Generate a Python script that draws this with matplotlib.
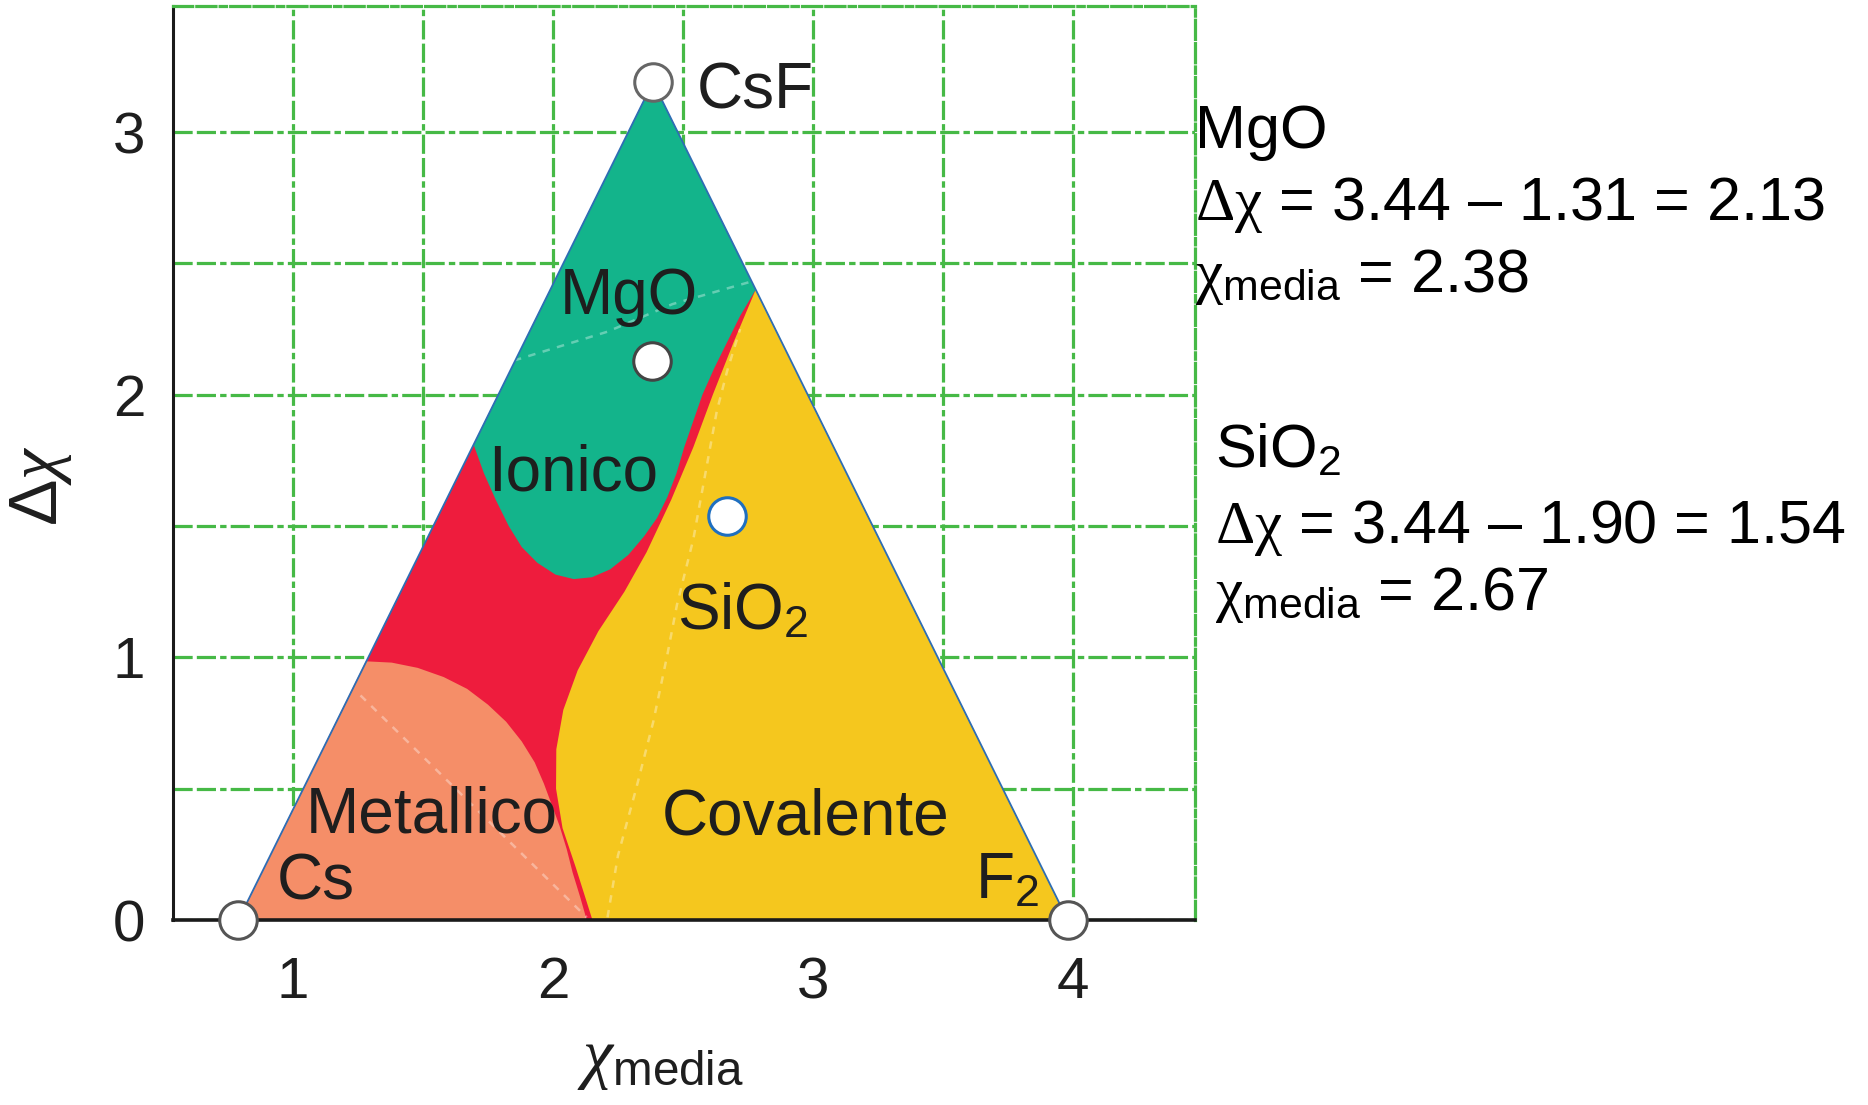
import matplotlib
matplotlib.use('Agg')
import matplotlib.pyplot as plt
from matplotlib.patches import Polygon

plt.rcParams['font.family'] = ['Liberation Sans', 'DejaVu Sans']
plt.rcParams['mathtext.fontset'] = 'custom'
plt.rcParams['mathtext.rm'] = 'Liberation Sans'
plt.rcParams['mathtext.it'] = 'Liberation Serif:italic'
plt.rcParams['mathtext.bf'] = 'Liberation Sans:bold'
plt.rcParams['mathtext.sf'] = 'Liberation Serif'

# ---------------- data ----------------
compounds = ['Cs', 'CsF', 'MgO', 'SiO2', 'F2']
chi_media = [0.79, 2.385, 2.38, 2.67, 3.98]
delta_chi = [0.0, 3.19, 2.13, 1.54, 0.0]
marker_edges = ['#555555', '#666666', '#444444', '#1F6FC0', '#555555']

# triangle corners (Cs, CsF, F2)
tri_x = [0.79, 2.385, 3.98]
tri_y = [0.0, 3.19, 0.0]

# metallic region boundary (left edge -> bottom)
met_x = [1.28, 1.38, 1.48, 1.58, 1.67, 1.75, 1.82, 1.88, 1.93, 1.965, 1.995, 2.025, 2.053, 2.076, 2.104, 2.13]
met_y = [0.985, 0.98, 0.96, 0.925, 0.88, 0.82, 0.755, 0.68, 0.60, 0.52, 0.44, 0.36, 0.27, 0.18, 0.09, 0.0]

# ionic region boundary (left edge -> right edge)
ion_x = [1.695, 1.735, 1.78, 1.83, 1.88, 1.94, 2.01, 2.08, 2.15, 2.22, 2.29, 2.35, 2.40, 2.44,
         2.475, 2.505, 2.54, 2.575, 2.62, 2.67, 2.72, 2.78]
ion_y = [1.81, 1.70, 1.60, 1.50, 1.42, 1.36, 1.315, 1.298, 1.305, 1.335, 1.39, 1.46, 1.53, 1.61,
         1.70, 1.80, 1.90, 2.00, 2.10, 2.20, 2.30, 2.40]

# covalent region boundary (right edge -> bottom)
cov_x = [2.78, 2.695, 2.615, 2.54, 2.455, 2.36, 2.275, 2.175, 2.095, 2.04, 2.013, 2.012, 2.037, 2.088, 2.12, 2.152]
cov_y = [2.40, 2.20, 2.00, 1.80, 1.60, 1.40, 1.25, 1.10, 0.95, 0.80, 0.65, 0.50, 0.35, 0.20, 0.10, 0.0]

# faint guide lines inside the regions
guide_ion_x = [1.85, 2.21, 2.46, 2.76]
guide_ion_y = [2.13, 2.24, 2.345, 2.43]
guide_cov_x = [2.21, 2.25, 2.32, 2.386, 2.44, 2.477, 2.54, 2.63, 2.67, 2.72]
guide_cov_y = [0.01, 0.245, 0.50, 0.755, 1.01, 1.20, 1.45, 1.936, 2.09, 2.25]
guide_met_x = [1.26, 2.13]
guide_met_y = [0.855, 0.01]

x_ticks = [1, 2, 3, 4]
y_ticks = [0, 1, 2, 3]

region_labels = ['CsF', 'MgO', 'Ionico', 'SiO$_2$', 'Metallico', 'Covalente', 'Cs', 'F$_2$']
region_label_x = [2.555, 2.028, 1.752, 2.477, 1.051, 2.417, 0.937, 3.623]
region_label_y = [3.09, 2.309, 1.636, 1.105, 0.332, 0.327, 0.077, 0.082]

side_lines = ['MgO',
              r'$\mathsf{\Delta\chi}$ = 3.44 – 1.31 = 2.13',
              r'$\mathsf{\chi}_{\mathrm{media}}$ = 2.38',
              'SiO$_2$',
              r'$\mathsf{\Delta\chi}$ = 3.44 – 1.90 = 1.54',
              r'$\mathsf{\chi}_{\mathrm{media}}$ = 2.67']
side_x = [0.6397, 0.6397, 0.6397, 0.6505, 0.6505, 0.6505]
side_y = [0.866, 0.801, 0.736, 0.577, 0.509, 0.448]

# colours
c_red = '#EE1C3D'
c_teal = '#13B48B'
c_salmon = '#F58E68'
c_yellow = '#F5C71E'
c_grid = '#46B946'
c_edge = '#2E6DB4'
c_text = '#1E1E1E'

grid_dash = (0, (6, 1.3, 6, 1.3, 2, 1.3))

# ---------------- figure ----------------
fig = plt.figure(figsize=(18.68, 11.05), dpi=100)
ax = fig.add_axes([0.0925, 0.1674, 0.5473, 0.8272])
ax.set_xlim(0.538, 4.47)
ax.set_ylim(0.0, 3.48)

# grid
ax.set_xticks(x_ticks)
ax.set_yticks(y_ticks)
ax.set_xticks([1.5, 2.5, 3.5], minor=True)
ax.set_yticks([0.5, 1.5, 2.5], minor=True)
ax.grid(True, which='both', color=c_grid, linewidth=2.3, linestyle=grid_dash)
ax.set_axisbelow(True)

# regions
ax.add_patch(Polygon(list(zip(tri_x, tri_y)), closed=True, facecolor=c_red, edgecolor='none', zorder=2))
ax.add_patch(Polygon(list(zip([tri_x[0]] + met_x, [tri_y[0]] + met_y)), closed=True,
                     facecolor=c_salmon, edgecolor='none', zorder=2.1))
ax.add_patch(Polygon(list(zip(ion_x + [tri_x[1]], ion_y + [tri_y[1]])), closed=True,
                     facecolor=c_teal, edgecolor='none', zorder=2.1))
ax.add_patch(Polygon(list(zip(cov_x + [tri_x[2]], cov_y + [tri_y[2]])), closed=True,
                     facecolor=c_yellow, edgecolor='none', zorder=2.1))

# faint guide lines
guide_style = dict(color='white', alpha=0.35, linewidth=1.8, linestyle=(0, (3, 3)), zorder=2.5)
ax.plot(guide_ion_x, guide_ion_y, **guide_style)
ax.plot(guide_cov_x, guide_cov_y, **guide_style)
ax.plot(guide_met_x, guide_met_y, **guide_style)

# triangle sides
ax.plot(tri_x, tri_y, color=c_edge, linewidth=1.3, zorder=3)

# compound markers
for cx, cy, ec in zip(chi_media, delta_chi, marker_edges):
    ax.plot([cx], [cy], marker='o', markersize=27, markerfacecolor='white',
            markeredgecolor=ec, markeredgewidth=2.2, linestyle='none',
            zorder=6, clip_on=False)

# labels inside the chart
for txt, lx, ly in zip(region_labels, region_label_x, region_label_y):
    ax.text(lx, ly, txt, fontsize=46, color=c_text, ha='left', va='baseline', zorder=7)

# spines
for s in ['top', 'right']:
    ax.spines[s].set_color(c_grid)
    ax.spines[s].set_linewidth(2.3)
    ax.spines[s].set_linestyle(grid_dash)
ax.spines['left'].set_color('#1A1A1A')
ax.spines['left'].set_linewidth(2.2)
ax.spines['bottom'].set_color('#1A1A1A')
ax.spines['bottom'].set_linewidth(2.6)
ax.spines['bottom'].set_zorder(5)

ax.tick_params(which='both', length=0)
ax.tick_params(axis='x', labelsize=42, pad=26, labelcolor=c_text)
ax.tick_params(axis='y', labelsize=42, pad=20, labelcolor=c_text)

ax.set_xlabel(r'$\chi_{\mathrm{media}}$', fontsize=49, color=c_text)
ax.xaxis.set_label_coords(0.477, -0.118)
ax.set_ylabel(r'$\Delta\chi$', fontsize=50, color=c_text)
ax.yaxis.set_label_coords(-0.097, 0.475)

# side notes
for txt, sx, sy in zip(side_lines, side_x, side_y):
    fig.text(sx, sy, txt, fontsize=44, color='black', ha='left', va='baseline')

fig.savefig('out.png', dpi=100)
